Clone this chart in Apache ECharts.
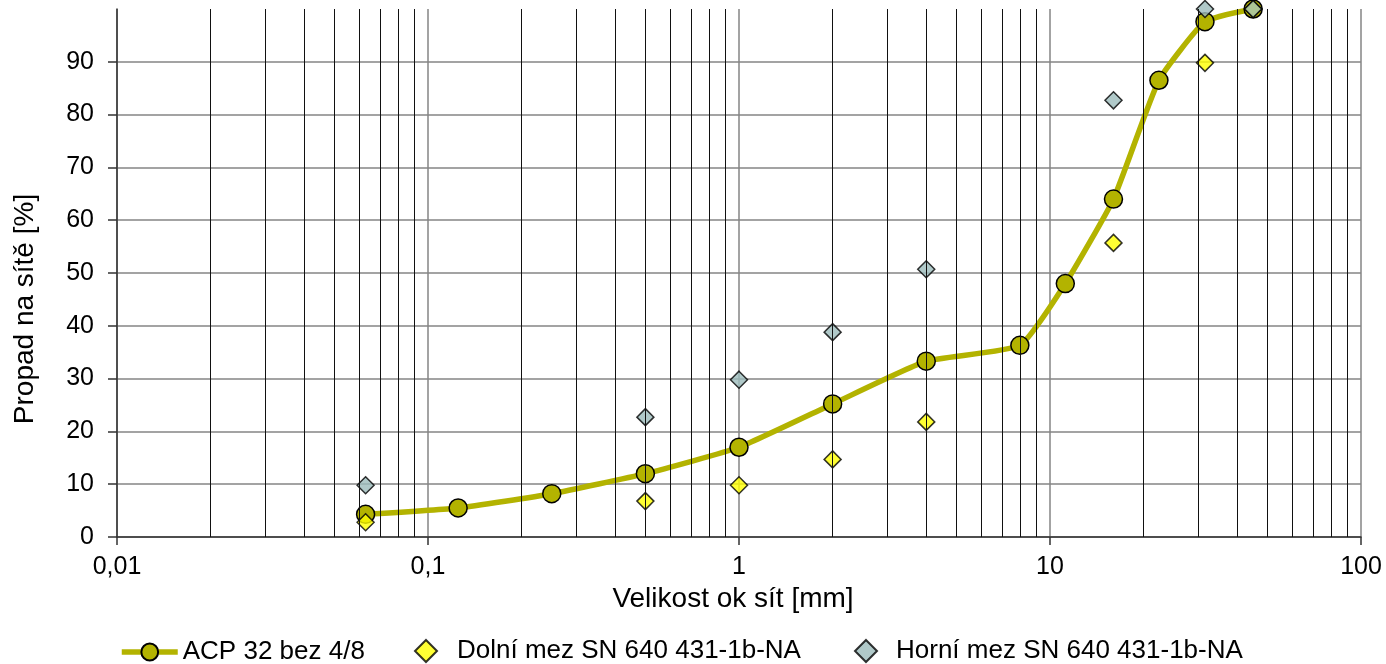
<!DOCTYPE html>
<html>
<head>
<meta charset="utf-8">
<script src="https://cdn.jsdelivr.net/npm/echarts@6/dist/echarts.min.js"></script>
<style>html,body{margin:0;padding:0;background:#fff}#c{width:1386px;height:664px}</style>
</head>
<body>
<div id="c"></div>
<script>
const sieves = [0.063, 0.125, 0.25, 0.5, 1, 2, 4, 8, 11.2, 16, 22.4, 31.5, 45];
const acp = [4.3, 5.5, 8.2, 12.0, 17.0, 25.2, 33.3, 36.3, 48.0, 64.0, 86.5, 97.6, 100];
const limitSieves = [0.063, 0.5, 1, 2, 4, 16, 31.5, 45];
const dolni = [2.8, 6.8, 9.8, 14.7, 21.8, 55.7, 89.8, 100];
const horni = [9.8, 22.7, 29.8, 38.8, 50.7, 82.7, 100, 100];
const seriesNames = ['ACP 32 bez 4/8', 'Dolní mez SN 640 431-1b-NA', 'Horní mez SN 640 431-1b-NA'];
const yTicks = [0, 10, 20, 30, 40, 50, 60, 70, 80, 90];
const decades = [0.01, 0.1, 1, 10];

const minorX = [];
decades.forEach(d => { for (let k = 2; k <= 9; k++) minorX.push(+(k * d).toPrecision(3)); });

const font = "'Liberation Sans', Arial, sans-serif";
const diamondIcon = 'path://M0,-1L1,0L0,1L-1,0Z';
const legendText = { fontSize: 26, color: '#000', fontFamily: font };
const chart = echarts.init(document.getElementById('c'));
chart.setOption({
  animation: false,
  textStyle: { fontFamily: font },
  grid: { left: 117, right: 25, top: 9, bottom: 127, containLabel: false },
  legend: [
    {
      top: 634, left: 114, itemWidth: 56, itemHeight: 21,
      data: [{ name: seriesNames[0] }],
      lineStyle: { width: 5.5, color: '#b3b300' },
      textStyle: legendText
    },
    {
      top: 633, left: 409, itemWidth: 22, itemHeight: 22, symbolKeepAspect: true,
      data: [{ name: seriesNames[1], icon: diamondIcon }],
      textStyle: Object.assign({ padding: [0, 0, 0, 15] }, legendText)
    },
    {
      top: 633, left: 849, itemWidth: 22, itemHeight: 22, symbolKeepAspect: true,
      data: [{ name: seriesNames[2], icon: diamondIcon }],
      textStyle: Object.assign({ padding: [0, 0, 0, 14] }, legendText)
    }
  ],
  xAxis: {
    type: 'log', logBase: 10, min: 0.01, max: 100,
    name: 'Velikost ok sít [mm]', nameLocation: 'middle', nameGap: 46,
    nameTextStyle: { fontSize: 28, color: '#000', fontFamily: font, padding: [0, 12, 0, 0] },
    axisLine: { show: true, lineStyle: { color: '#333', width: 1.5 } },
    axisTick: { show: true, length: 8, lineStyle: { color: '#333', width: 1.5 } },
    axisLabel: { fontSize: 25, color: '#000', margin: 18, fontFamily: font,
      formatter: v => String(v).replace('.', ',') },
    splitLine: { show: true, lineStyle: { color: '#858585', width: 1.5 } }
  },
  yAxis: {
    type: 'value', min: 0, max: 100, interval: 10,
    name: 'Propad na sítě [%]', nameLocation: 'middle', nameGap: 78,
    nameTextStyle: { fontSize: 28, color: '#000', fontFamily: font, padding: [0, 72, 0, 0] },
    axisLine: { show: true, lineStyle: { color: '#333', width: 1.5 } },
    axisTick: { show: true, length: 9, customValues: yTicks, lineStyle: { color: '#333', width: 1.5 } },
    axisLabel: { fontSize: 25, color: '#000', margin: 23, customValues: yTicks, fontFamily: font },
    splitLine: { show: true, lineStyle: { color: '#858585', width: 1.5 } }
  },
  series: [
    {
      name: 'minor', type: 'scatter', data: [], silent: true, z: 1,
      markLine: {
        silent: true, symbol: ['none', 'none'], animation: false,
        label: { show: false },
        lineStyle: { type: 'solid', color: '#111', width: 1 },
        emphasis: { disabled: true },
        data: minorX.map(v => ({ xAxis: v }))
      }
    },
    {
      name: seriesNames[0], type: 'line', z: 3, clip: false,
      data: sieves.map((x, i) => [x, acp[i]]),
      smooth: 0.15,
      symbol: 'circle', symbolSize: 18,
      lineStyle: { color: '#b3b300', width: 5.5 },
      itemStyle: { color: '#b3b300', borderColor: '#000', borderWidth: 1.5 }
    },
    {
      name: seriesNames[1], type: 'scatter', z: 4, clip: false,
      data: limitSieves.map((x, i) => [x, dolni[i]]),
      symbol: 'diamond', symbolSize: 17,
      itemStyle: { color: '#ffff00', borderColor: '#000', borderWidth: 1.5 }
    },
    {
      name: seriesNames[2], type: 'scatter', z: 4, clip: false,
      data: limitSieves.map((x, i) => [x, horni[i]]),
      symbol: 'diamond', symbolSize: 17,
      itemStyle: { color: '#9cbcbc', borderColor: '#000', borderWidth: 1.5 }
    }
  ]
});
</script>
</body>
</html>
